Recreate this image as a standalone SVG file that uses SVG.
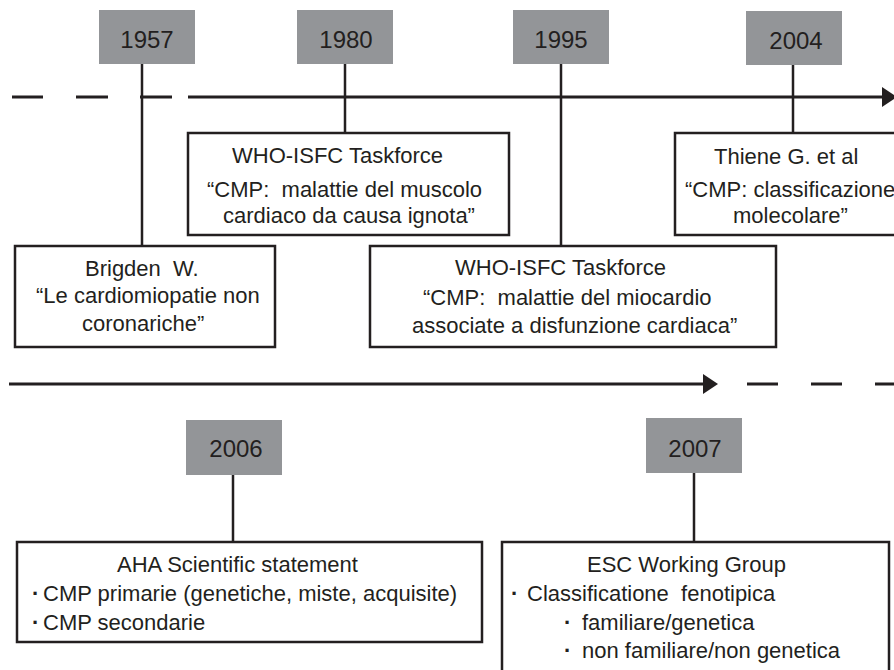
<svg xmlns="http://www.w3.org/2000/svg" width="894" height="670" viewBox="0 0 894 670">
<style>
text{font-family:"Liberation Sans",Arial,Helvetica,sans-serif;font-size:22px;fill:#231f20;white-space:pre}
.yr{font-size:24px;text-anchor:middle}
.bl{font-weight:bold}
.ybox{fill:#939598}
.box{fill:#fff;stroke:#231f20;stroke-width:2.5}
.ln{stroke:#231f20;stroke-width:2.5;fill:none}
.tl{stroke:#231f20;stroke-width:3;fill:none}
.ah{fill:#231f20}
</style>
<rect width="894" height="670" fill="#fff"/>
<g id="connectors">
<path class="tl" d="M12 97H43M76 97H108M140 97H172M188 97H884"/>
<polygon class="ah" points="882,87 897,97 882,107"/>
<path class="tl" d="M9 384H705M747 384H778M811 384H842M875 384H906"/>
<polygon class="ah" points="703,374 718,384 703,394"/>
<path class="ln" d="M142 64V246M345 64V133M561 64V246M793 65V133M233 475V542M694 473V542"/>
</g>
<g id="y1957"><rect class="ybox" x="99" y="10" width="96" height="54"/><text class="yr" x="147" y="48">1957</text></g>
<g id="y1980"><rect class="ybox" x="297" y="10" width="96" height="54"/><text class="yr" x="346" y="48">1980</text></g>
<g id="y1995"><rect class="ybox" x="513" y="10" width="96" height="54"/><text class="yr" x="561" y="48">1995</text></g>
<g id="y2004"><rect class="ybox" x="746" y="11" width="96" height="54"/><text class="yr" x="796" y="49">2004</text></g>
<g id="y2006"><rect class="ybox" x="186" y="420" width="96" height="55"/><text class="yr" x="236" y="457">2006</text></g>
<g id="y2007"><rect class="ybox" x="646" y="418" width="96" height="55"/><text class="yr" x="695" y="457">2007</text></g>
<g id="box1980">
<rect class="box" x="188" y="133" width="321" height="102"/>
<text x="232" y="163">WHO-ISFC Taskforce</text>
<text x="207" y="197">“CMP:  malattie del muscolo</text>
<text x="223" y="223">cardiaco da causa ignota”</text>
</g>
<g id="box2004">
<rect class="box" x="675" y="133" width="240" height="102"/>
<text x="714" y="164">Thiene G. et al</text>
<text x="685" y="197">“CMP: classificazione</text>
<text x="733" y="223">molecolare”</text>
</g>
<g id="box1957">
<rect class="box" x="15" y="246" width="260" height="101"/>
<text x="85" y="276">Brigden  W.</text>
<text x="36" y="303">“Le cardiomiopatie non</text>
<text x="82" y="331">coronariche”</text>
</g>
<g id="box1995">
<rect class="box" x="370" y="246" width="406" height="101"/>
<text x="455" y="275">WHO-ISFC Taskforce</text>
<text x="423" y="305">“CMP:  malattie del miocardio</text>
<text x="412" y="333">associate a disfunzione cardiaca”</text>
</g>
<g id="box2006">
<rect class="box" x="17" y="542" width="465" height="100"/>
<text x="117" y="572">AHA Scientific statement</text>
<text y="601"><tspan class="bl" x="32">·</tspan><tspan x="43">CMP primarie (genetiche, miste, acquisite)</tspan></text>
<text y="630"><tspan class="bl" x="32">·</tspan><tspan x="43">CMP secondarie</tspan></text>
</g>
<g id="box2007">
<rect class="box" x="502" y="542" width="387" height="140"/>
<text x="587" y="572">ESC Working Group</text>
<text y="601"><tspan class="bl" x="511">·</tspan><tspan x="527">Classificatione  fenotipica</tspan></text>
<text y="630"><tspan class="bl" x="564">·</tspan><tspan x="582">familiare/genetica</tspan></text>
<text y="658"><tspan class="bl" x="564">·</tspan><tspan x="582">non familiare/non genetica</tspan></text>
</g>
</svg>
